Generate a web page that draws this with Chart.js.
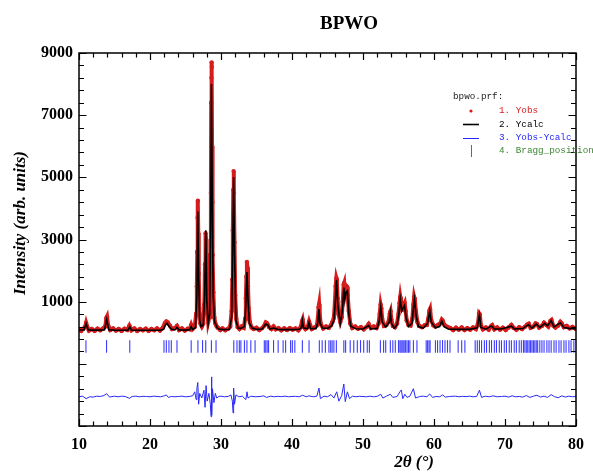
<!DOCTYPE html>
<html>
<head>
<meta charset="utf-8">
<script src="https://cdn.jsdelivr.net/npm/chart.js@4/dist/chart.umd.min.js"></script>
<style>
  html, body { margin: 0; padding: 0; background: #fff; }
  #wrap { width: 593px; height: 472px; position: relative; }
</style>
</head>
<body>
<div id="wrap"><canvas id="c" width="593" height="472"></canvas></div>
<script>
// ---------- data ----------
const chartTitle = "BPWO";
const xAxisTitle = "2θ (°)";
const yAxisTitle = "Intensity (arb. units)";
const legendFile = "bpwo.prf:";
const legendLabels = ["1. Yobs", "2. Ycalc", "3. Yobs-Ycalc", "4. Bragg_position"];
const xTickLabels = [10, 20, 30, 40, 50, 60, 70, 80];
const yTickLabels = [1000, 3000, 5000, 7000, 9000];

// Ycalc (2theta, intensity)
const calcX = [10.0,10.7,11.0,11.3,12.0,13.0,13.6,13.9,14.2,15.0,16.0,16.9,17.15,17.4,18.5,20.0,21.5,21.9,22.2,22.4,22.7,23.0,23.5,23.8,24.1,25.0,25.6,25.8,26.0,26.4,26.6,26.73,26.85,27.0,27.2,27.5,27.7,27.86,28.0,28.2,28.4,28.55,28.65,28.75,28.9,29.1,29.3,29.5,29.8,30.5,31.2,31.5,31.65,31.78,31.9,32.1,32.4,32.8,33.3,33.5,33.66,33.8,34.0,34.4,35.0,35.8,36.3,36.6,36.9,37.4,38.0,39.0,40.0,41.0,41.3,41.46,41.6,42.2,42.4,42.6,43.4,43.65,43.8,43.95,44.3,45.0,45.6,45.9,46.1,46.27,46.45,46.8,47.1,47.3,47.45,47.6,47.8,48.0,48.3,49.0,50.0,50.8,51.1,52.0,52.3,52.5,52.7,53.2,53.7,53.85,54.0,54.4,54.8,55.05,55.25,55.45,55.65,55.85,56.05,56.4,56.9,57.1,57.25,57.45,57.8,58.5,59.1,59.4,59.6,60.2,60.8,61.1,61.4,62.0,63.0,64.0,65.0,66.1,66.4,66.6,67.3,68.1,68.5,69.5,70.9,71.3,72.5,73.3,73.8,74.4,74.9,75.6,76.0,76.5,76.9,77.8,78.3,79.0,80.0];
const calcY = [90,90,290,90,85,85,95,420,95,85,80,85,190,85,80,80,85,110,260,300,200,120,90,170,90,85,100,200,110,160,1200,3900,1800,400,200,250,1200,3300,1000,300,600,3500,8000,5000,1200,350,250,150,110,100,110,500,2800,5000,2600,400,150,140,200,900,1950,1100,300,150,110,120,280,250,120,150,110,100,100,110,160,400,160,130,330,130,140,350,760,300,150,140,230,400,1000,1700,900,300,700,1450,1050,1300,1350,600,200,130,120,230,120,140,400,820,350,180,350,640,300,150,250,600,1080,700,800,880,500,200,300,800,1080,600,200,150,300,700,350,160,200,380,200,120,110,115,110,160,580,170,115,220,120,120,210,125,135,260,150,280,170,300,220,390,190,320,170,140,120];

// Yobs (2theta, intensity)
const obsX = [10.0,10.3,10.6,10.85,11.0,11.15,11.4,11.8,12.2,12.6,13.0,13.4,13.7,13.85,13.95,14.1,14.4,14.8,15.2,15.6,16.0,16.4,16.8,17.1,17.4,17.8,18.2,18.6,19.0,19.4,19.8,20.2,20.6,21.0,21.4,21.8,22.1,22.3,22.5,22.8,23.1,23.5,23.8,24.1,24.5,24.9,25.3,25.6,25.8,26.0,26.3,26.5,26.6,26.66,26.7,26.75,26.8,26.87,26.95,27.1,27.3,27.5,27.65,27.75,27.83,27.9,27.97,28.05,28.2,28.35,28.45,28.52,28.58,28.62,28.65,28.68,28.71,28.74,28.78,28.84,28.92,29.05,29.2,29.4,29.6,29.9,30.2,30.6,31.0,31.3,31.5,31.6,31.67,31.73,31.78,31.83,31.9,32.0,32.15,32.35,32.6,32.9,33.2,33.4,33.5,33.58,33.65,33.72,33.8,33.9,34.05,34.3,34.6,35.0,35.4,35.8,36.1,36.3,36.5,36.8,37.1,37.4,37.7,38.1,38.5,38.9,39.3,39.7,40.1,40.5,40.9,41.2,41.4,41.5,41.65,41.9,42.2,42.4,42.55,42.8,43.2,43.5,43.65,43.75,43.82,43.9,44.05,44.4,44.8,45.2,45.5,45.7,45.9,46.05,46.15,46.25,46.32,46.42,46.55,46.8,47.0,47.15,47.28,47.35,47.45,47.55,47.65,47.75,47.85,48.0,48.2,48.5,48.9,49.3,49.7,50.1,50.5,50.8,51.1,51.5,51.9,52.2,52.35,52.48,52.58,52.7,52.95,53.3,53.6,53.78,53.88,54.0,54.2,54.5,54.8,55.0,55.15,55.25,55.35,55.5,55.62,55.75,55.87,56.0,56.15,56.4,56.7,56.95,57.1,57.2,57.3,57.45,57.65,57.9,58.3,58.7,59.0,59.2,59.35,59.45,59.6,59.9,60.2,60.6,60.9,61.1,61.25,61.5,61.9,62.3,62.7,63.1,63.5,63.9,64.3,64.7,65.1,65.5,65.9,66.2,66.35,66.45,66.6,66.9,67.3,67.7,68.0,68.2,68.5,68.9,69.3,69.7,70.1,70.5,70.9,71.2,71.6,72.0,72.4,72.8,73.1,73.35,73.6,74.0,74.3,74.5,74.8,75.2,75.5,75.8,76.1,76.4,76.55,76.8,77.1,77.5,77.8,78.0,78.3,78.7,79.1,79.5,80.0];
const obsY = [110,60,130,180,320,200,70,120,60,130,80,140,200,470,520,240,90,140,70,120,60,130,90,230,80,140,60,120,80,130,60,120,80,140,70,160,310,360,330,230,120,150,220,90,140,70,130,110,250,120,190,600,1500,2600,3700,4250,3200,1900,800,300,200,300,900,2200,3200,3000,1700,900,350,500,1300,2500,4500,7400,8200,8700,8550,6000,4200,2500,1300,500,300,200,150,90,140,80,130,200,700,1700,3300,4600,5200,4500,2900,1200,450,180,120,200,160,450,1100,1800,2280,2100,1500,800,350,170,120,160,90,150,230,330,300,180,120,200,110,150,80,140,90,150,100,140,80,170,350,420,200,120,180,360,250,120,170,230,480,820,920,600,280,140,200,160,250,350,480,1000,1500,1760,1700,1100,600,350,500,1000,1550,1600,1200,1400,1500,1480,1200,700,300,150,200,130,180,110,190,280,150,200,150,300,600,900,780,450,220,250,350,620,690,420,220,180,300,600,950,1150,1000,750,850,900,960,700,400,250,230,450,900,1150,1050,700,350,220,180,240,250,450,700,760,420,240,200,260,300,420,380,240,190,150,90,160,100,170,90,150,100,170,120,300,620,590,240,110,170,100,200,240,110,170,100,160,90,170,250,160,100,180,120,190,260,290,160,200,300,280,170,220,320,260,200,380,410,230,170,230,350,300,180,220,140,190,120];

// Yobs-Ycalc (offset difference curve)
const diffX = [10.0,10.5,11.0,11.5,12.0,12.5,13.0,13.5,13.9,14.3,15.0,15.5,16.0,16.5,17.1,17.5,18.0,18.5,19.0,19.5,20.0,20.5,21.0,21.5,22.0,22.3,22.6,23.0,23.5,24.0,24.5,25.0,25.5,26.0,26.3,26.5,26.6,26.73,26.85,27.0,27.3,27.6,27.75,27.9,28.05,28.3,28.5,28.6,28.65,28.72,28.8,29.0,29.2,29.4,29.7,30.0,30.5,31.0,31.4,31.6,31.7,31.78,31.9,32.1,32.5,33.0,33.5,33.66,33.8,34.2,34.8,35.5,36.0,36.4,37.0,37.5,38.0,38.5,39.0,39.5,40.0,40.5,41.0,41.5,42.0,42.4,43.0,43.5,43.8,44.0,44.5,45.0,45.5,45.9,46.3,46.6,47.0,47.3,47.5,47.8,48.1,48.5,49.0,49.5,50.0,50.5,51.0,51.5,52.0,52.5,52.8,53.3,53.85,54.2,54.8,55.2,55.4,55.6,55.9,56.2,56.6,57.1,57.4,58.0,58.5,59.0,59.4,59.8,60.3,60.8,61.2,61.6,62.2,63.0,63.5,64.0,64.5,65.0,65.5,66.0,66.4,66.7,67.2,67.8,68.3,68.9,69.5,70.0,70.5,71.0,71.5,72.0,72.5,73.0,73.5,74.0,74.5,75.0,75.5,76.0,76.5,77.0,77.5,78.0,78.5,79.0,79.5,80.0];
const diffY = [-2060,-2040,-2120,-2060,-2070,-2040,-2050,-2020,-1960,-2070,-2040,-2060,-2040,-2050,-2110,-2050,-2040,-2060,-2045,-2050,-2060,-2040,-2050,-2060,-2030,-2000,-2080,-2050,-2060,-2050,-2040,-2060,-2050,-2030,-1900,-2150,-1800,-1600,-2300,-1950,-2100,-1850,-2400,-1700,-2200,-1950,-2300,-2700,-1420,-2650,-1800,-2250,-1950,-2100,-2050,-2040,-2060,-2050,-2000,-2200,-2580,-1780,-2300,-2000,-2060,-2040,-2150,-1900,-2100,-2040,-2060,-2050,-2030,-2080,-2040,-2060,-2045,-2055,-2040,-2060,-2050,-2045,-2060,-2010,-2060,-2030,-2060,-2040,-1780,-2120,-2040,-2060,-1990,-2100,-1900,-2200,-2020,-1650,-2215,-1900,-2120,-2040,-2060,-2045,-2050,-2060,-2040,-2060,-2045,-1980,-2100,-2040,-1980,-2080,-2050,-1900,-1840,-2120,-1980,-2080,-2040,-1800,-2100,-2050,-2040,-2060,-1970,-2080,-2050,-2060,-2000,-2070,-2050,-2040,-2060,-2045,-2055,-2040,-2060,-2050,-1850,-2080,-2040,-2060,-2030,-2060,-2050,-2040,-2070,-2030,-2060,-2050,-2070,-2020,-2080,-2040,-2010,-2070,-2040,-2080,-1990,-2060,-2090,-2030,-2070,-2040,-2060,-2050];

// Bragg reflection positions (2theta) and the level their marks sit at
const braggPos = [10.98,13.88,17.15,21.97,22.3,22.67,23.0,23.8,25.8,26.75,27.4,27.85,28.65,29.3,31.8,32.25,32.58,32.8,33.3,33.65,34.2,34.8,36.1,36.3,36.5,36.7,37.4,38.05,38.75,39.1,39.8,40.05,40.4,41.46,42.4,43.85,44.25,44.7,45.2,45.45,45.65,45.9,46.25,47.3,47.55,48.2,48.7,49.2,49.65,50.1,50.6,50.9,52.45,52.9,53.2,53.85,54.2,54.55,55.0,55.2,55.35,55.5,55.65,55.8,56.0,56.2,56.4,56.6,57.1,57.6,58.9,59.1,59.3,59.45,60.2,60.5,60.85,61.2,61.55,61.9,62.25,63.4,63.9,64.35,65.8,66.1,66.4,66.7,67.1,67.4,67.8,68.1,68.5,68.8,69.2,69.5,69.9,70.2,70.6,70.9,71.3,71.6,72.0,72.3,72.6,72.8,73.0,73.2,73.4,73.6,73.8,74.0,74.2,74.4,74.6,74.9,75.2,75.5,75.9,76.2,76.5,76.9,77.2,77.6,77.9,78.3,78.6,79.0,79.3,79.7];
const braggLevel = -440;

// ---------- styling ----------
const RED = "rgb(214,28,28)";
const BLUE = "rgb(40,40,250)";
const BRAGG = "rgb(60,60,255)";
const GREEN = "rgb(60,135,50)";
const SERIF = "'Liberation Serif', 'Times New Roman', serif";
const MONO = "'Liberation Mono', 'Courier New', monospace";

const pts = (xs, ys) => xs.map((x, i) => ({ x: x, y: ys[i] }));

const framePlugin = {
  id: 'frame',
  afterDatasetsDraw(chart) {
    const ctx = chart.ctx, a = chart.chartArea;
    const xs = chart.scales.x, ys = chart.scales.y;
    ctx.save();
    ctx.strokeStyle = '#000';
    ctx.lineWidth = 1.5;
    ctx.strokeRect(a.left, a.top, a.right - a.left, a.bottom - a.top);
    ctx.lineWidth = 1.2;
    ctx.beginPath();
    // x ticks: minor every 2, major every 10 (inward, top and bottom)
    for (let v = xs.min; v <= xs.max + 1e-9; v += 2) {
      const p = Math.round(xs.getPixelForValue(v)) + 0.5;
      const L = (Math.abs(v % 10) < 1e-9) ? 7 : 4.5;
      ctx.moveTo(p, a.bottom); ctx.lineTo(p, a.bottom - L);
      ctx.moveTo(p, a.top); ctx.lineTo(p, a.top + L);
    }
    // y ticks: minor every 400, major every 2000 (inward, left and right)
    for (let v = ys.min; v <= ys.max + 1e-9; v += 400) {
      const p = Math.round(ys.getPixelForValue(v)) + 0.5;
      const L = (Math.abs((v - ys.min) % 2000) < 1e-9) ? 7.5 : 5;
      ctx.moveTo(a.left, p); ctx.lineTo(a.left + L, p);
      ctx.moveTo(a.right, p); ctx.lineTo(a.right - L, p);
    }
    ctx.stroke();
    ctx.restore();
  },
  afterDraw(chart) {
    const ctx = chart.ctx;
    ctx.save();
    ctx.fillStyle = '#000';
    ctx.textAlign = 'center';
    ctx.textBaseline = 'middle';
    // chart title
    ctx.font = "bold 19px " + SERIF;
    ctx.fillText(chartTitle, 349, 24);
    // x title
    ctx.font = "italic bold 17px " + SERIF;
    ctx.fillText(xAxisTitle, 414, 463);
    // y title
    ctx.save();
    ctx.translate(21, 223);
    ctx.rotate(-Math.PI / 2);
    ctx.fillText(yAxisTitle, 0, 0);
    ctx.restore();
    // legend
    ctx.font = "9.3px " + MONO;
    ctx.textAlign = 'left';
    ctx.fillStyle = '#222';
    ctx.fillText(legendFile, 453, 97);
    const rows = [111, 124.5, 138, 151];
    const cols = [RED, '#000', BLUE, GREEN];
    rows.forEach((y, i) => {
      ctx.fillStyle = cols[i];
      ctx.fillText(legendLabels[i], 499, y);
    });
    // markers
    ctx.fillStyle = RED;
    ctx.beginPath(); ctx.arc(471, 111, 1.6, 0, Math.PI * 2); ctx.fill();
    ctx.lineWidth = 1.6;
    ctx.strokeStyle = '#000';
    ctx.beginPath(); ctx.moveTo(463, 124.5); ctx.lineTo(479, 124.5); ctx.stroke();
    ctx.lineWidth = 1;
    ctx.strokeStyle = BLUE;
    ctx.beginPath(); ctx.moveTo(463, 138.5); ctx.lineTo(479, 138.5); ctx.stroke();
    ctx.strokeStyle = GREEN;
    ctx.beginPath(); ctx.moveTo(471.5, 145); ctx.lineTo(471.5, 157); ctx.stroke();
    ctx.restore();
  }
};

new Chart(document.getElementById('c'), {
  type: 'scatter',
  data: {
    datasets: [
      {
        label: 'Yobs',
        data: pts(obsX, obsY),
        showLine: true,
        borderColor: RED,
        borderWidth: 4,
        backgroundColor: RED,
        pointRadius: 2.2,
        pointBorderWidth: 0,
        order: 3
      },
      {
        label: 'Ycalc',
        data: pts(calcX, calcY),
        showLine: true,
        borderColor: '#000',
        borderWidth: 1.6,
        pointRadius: 0,
        order: 2
      },
      {
        label: 'Yobs-Ycalc',
        data: pts(diffX, diffY),
        showLine: true,
        borderColor: BLUE,
        borderWidth: 1,
        pointRadius: 0,
        order: 1
      },
      {
        label: 'Bragg_position',
        data: braggPos.map(x => ({ x: x, y: braggLevel })),
        showLine: false,
        pointStyle: 'line',
        rotation: 90,
        pointRadius: 6.3,
        borderColor: BRAGG,
        borderWidth: 1.1,
        order: 1
      }
    ]
  },
  options: {
    responsive: false,
    animation: false,
    devicePixelRatio: 1,
    layout: { padding: { left: 0, right: 16, top: 53, bottom: 0 } },
    plugins: {
      legend: { display: false },
      title: { display: false },
      tooltip: { enabled: false }
    },
    scales: {
      x: {
        type: 'linear',
        min: 10, max: 80,
        afterBuildTicks: s => { s.ticks = xTickLabels.map(v => ({ value: v })); },
        afterFit: s => { s.height = 46; },
        grid: { display: false, drawTicks: false },
        border: { display: false },
        ticks: {
          padding: 9,
          color: '#000',
          font: { family: SERIF, size: 16, weight: 'bold' },
          maxRotation: 0,
          callback: v => String(v)
        }
      },
      y: {
        type: 'linear',
        min: -3000, max: 9000,
        afterBuildTicks: s => { s.ticks = yTickLabels.map(v => ({ value: v })); },
        afterFit: s => { s.width = 79; },
        grid: { display: false, drawTicks: false },
        border: { display: false },
        ticks: {
          padding: 6,
          color: '#000',
          font: { family: SERIF, size: 16, weight: 'bold' },
          callback: v => String(v)
        }
      }
    }
  },
  plugins: [framePlugin]
});
</script>
</body>
</html>
